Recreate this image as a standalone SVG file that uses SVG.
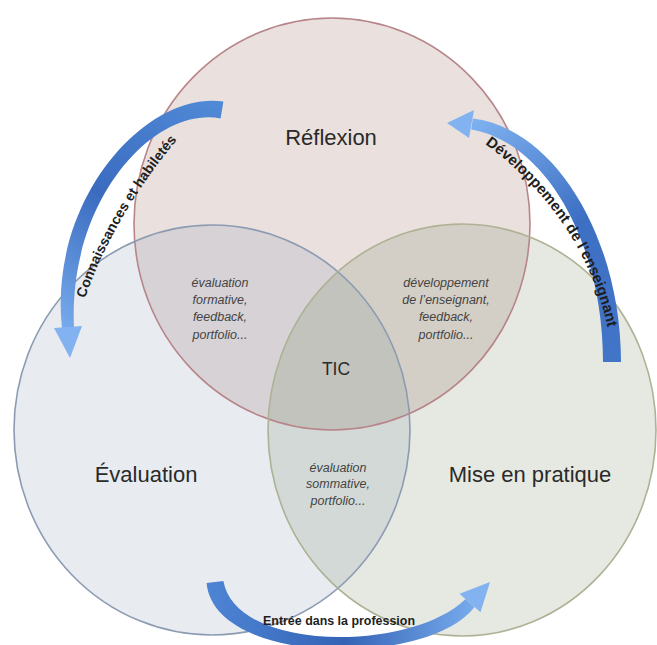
<svg xmlns="http://www.w3.org/2000/svg" width="657" height="645" viewBox="0 0 657 645">
<style>
.fill{fill-opacity:0.16;stroke:none}
.ring{fill:none;stroke-width:1.6}
.big{font-family:"Liberation Sans",Arial,sans-serif;font-size:22px;fill:#2a2a2a;text-anchor:middle}
.small{font-family:"Liberation Sans",Arial,sans-serif;font-size:12.5px;font-style:italic;fill:#444;text-anchor:middle}
.lbl{font-family:"Liberation Sans",Arial,sans-serif;font-weight:bold;fill:#1e1e1e}
.head{fill:#82b2ef}
</style>
<defs>
<linearGradient id="gL" gradientUnits="userSpaceOnUse" x1="222" y1="108" x2="68" y2="340">
<stop offset="0" stop-color="#5089d6"/><stop offset="0.5" stop-color="#3a6bbf"/><stop offset="1" stop-color="#7aaeee"/>
</linearGradient>
<linearGradient id="gR" gradientUnits="userSpaceOnUse" x1="612" y1="362" x2="470" y2="124">
<stop offset="0" stop-color="#4274c8"/><stop offset="0.5" stop-color="#3d6fc3"/><stop offset="1" stop-color="#7eb1ef"/>
</linearGradient>
<linearGradient id="gB" gradientUnits="userSpaceOnUse" x1="215" y1="582" x2="480" y2="595">
<stop offset="0" stop-color="#4d83d3"/><stop offset="0.5" stop-color="#3463b6"/><stop offset="1" stop-color="#7aaeee"/>
</linearGradient>
<path id="tpL" d="M 84 302 C 100 250, 140 180, 186 130"/>
<path id="tpR" d="M 482 142 C 530 175, 590 240, 608 330"/>
</defs>

<g id="reflexion">
<ellipse class="fill" cx="332" cy="224" rx="198" ry="206" fill="#7c4331"/>
</g>
<g id="evaluation">
<ellipse class="fill" cx="212" cy="430" rx="198" ry="205" fill="#6f88a7"/>
</g>
<g id="mise-en-pratique">
<ellipse class="fill" cx="462" cy="430" rx="194" ry="206" fill="#63754a"/>
</g>
<g id="outlines">
<ellipse class="ring" cx="332" cy="224" rx="198" ry="206" stroke="#b7858a"/>
<ellipse class="ring" cx="212" cy="430" rx="198" ry="205" stroke="#8c9bb2"/>
<ellipse class="ring" cx="462" cy="430" rx="194" ry="206" stroke="#aeb295"/>
</g>

<g id="labels">
<text class="big" x="331" y="145">Réflexion</text>
<text class="big" x="146" y="482">Évaluation</text>
<text class="big" x="530" y="482">Mise en pratique</text>
<text class="big" x="336" y="375" style="font-size:17.5px">TIC</text>
</g>
<g id="overlap-ref-eval">
<text class="small" x="220" y="287">évaluation</text>
<text class="small" x="220" y="304">formative,</text>
<text class="small" x="220" y="321">feedback,</text>
<text class="small" x="220" y="339">portfolio...</text>
</g>
<g id="overlap-ref-mise">
<text class="small" x="446" y="287">développement</text>
<text class="small" x="446" y="304">de l’enseignant,</text>
<text class="small" x="446" y="321">feedback,</text>
<text class="small" x="446" y="339">portfolio...</text>
</g>
<g id="overlap-eval-mise">
<text class="small" x="338" y="472">évaluation</text>
<text class="small" x="338" y="488">sommative,</text>
<text class="small" x="338" y="505">portfolio...</text>
</g>

<g id="connectors">
<path fill="url(#gL)" d="M 223.4 101.6 C 146.6 90, 48 199.4, 62 328.5 L 74 327.5 C 68 200.6, 153.4 106, 220.6 118.4 Z"/>
<polygon class="head" points="54,328 82,326 70,358"/>
<path fill="url(#gR)" d="M 621 362 C 621 238.5, 555.1 128.2, 472.8 118.6 L 471.2 129.4 C 544.9 141.8, 603 241.5, 603 362 Z"/>
<polygon class="head" points="474,110 469,138 447,123"/>
<path fill="url(#gB)" d="M 206.6 583 C 214 666, 428 668, 474.5 607 L 465.5 599 C 412 652, 236 653, 223.4 581 Z"/>
<polygon class="head" points="459.5,593.8 480.5,612.2 490,582"/>
<text class="lbl" font-size="14"><textPath href="#tpL" startOffset="4">Connaissances et habiletés</textPath></text>
<text class="lbl" font-size="15"><textPath href="#tpR" startOffset="4">Développement de l’enseignant</textPath></text>
<text class="lbl" font-size="13" x="339" y="625" text-anchor="middle" textLength="152" lengthAdjust="spacingAndGlyphs">Entrée dans la profession</text>
</g>
</svg>
